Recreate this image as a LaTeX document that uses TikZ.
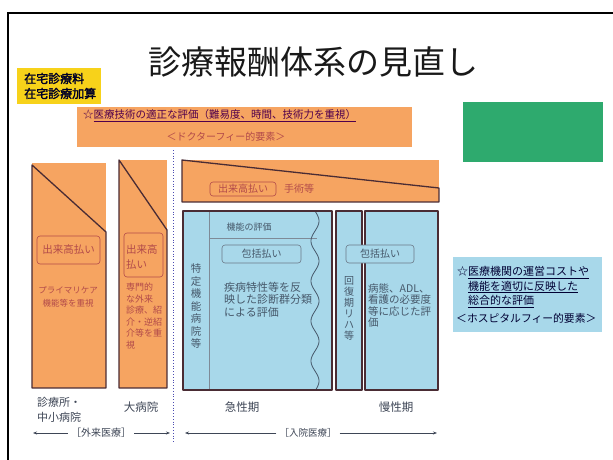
\documentclass[tikz,border=0pt]{standalone}
\usepackage{fontspec}
\setmainfont{Noto Sans CJK JP}[AutoFakeBold=2]
\usetikzlibrary{arrows.meta}
\definecolor{org}{HTML}{F6A461}
\definecolor{blu}{HTML}{A8D8EA}
\definecolor{grn}{HTML}{2EAA6E}
\definecolor{yel}{HTML}{F7D21A}
\definecolor{edge}{HTML}{4A2C34}
\definecolor{redtxt}{HTML}{B24A4A}
\definecolor{bluetxt}{HTML}{46586A}
\definecolor{lbltxt}{HTML}{3E4656}
\newcommand\fsz[2]{\fontsize{#1}{#2}\selectfont}
\tikzset{
  colfill/.style={fill=org, draw=none},
  coledge/.style={draw=edge, line width=1.3pt, line join=round},
  thinline/.style={draw=bluetxt!70, line width=0.5pt},
  orgtag/.style={draw=redtxt, line width=0.6pt, rounded corners=3pt, fill=org},
  blutag/.style={draw=bluetxt!80, line width=0.6pt, rounded corners=3pt, fill=blu},
  otext/.style={text=redtxt, inner sep=0pt},
  btext/.style={text=bluetxt, inner sep=0pt},
  ltext/.style={text=lbltxt, inner sep=0pt},
  arr/.style={draw=lbltxt, line width=0.7pt, -{Stealth[length=4pt,width=3pt]}}
}
\begin{document}
\begin{tikzpicture}[x=1pt,y=-1pt]
\useasboundingbox (0,0) rectangle (613,460);
\fill[white] (0,0) rectangle (613,460);
% frame
\draw[black, line width=1.5pt] (8,460) -- (8,13) -- (613,13);
% title
\node[text=black!90, inner sep=0pt, font=\fsz{33}{36}] (title) at (313,62) {診療報酬体系の見直し};
% yellow tag
\node[fill=yel, minimum width=84pt, minimum height=36pt, inner sep=0pt] (yel) at (59,86) {};
\node[anchor=west, align=left, text=black!85!blue, inner sep=0pt, font=\fsz{12}{15}\bfseries] (yeltxt) at (24,86) {在宅診療料\\在宅診療加算};
% top orange box
\node[fill=org, minimum width=335pt, minimum height=40pt, inner sep=0pt] (doc) at (244.5,127) {};
\node[anchor=west, text=black!55!red!70!blue, inner sep=0pt, font=\fsz{10.5}{12}] (doc1) at (83,116) {☆\underline{医療技術の適正な評価（難易度、時間、技術力を重視）}};
\node[text=redtxt, inner sep=0pt, font=\fsz{10}{12}] (doc2) at (226,137) {＜ドクターフィー的要素＞};
% green box
\node[fill=grn, minimum width=140pt, minimum height=60pt, inner sep=0pt] (grn) at (533,132) {};
% outpatient column 1
\fill[org] (32,163) rectangle (106,388);
\draw[coledge] (32,165) -- (32,388) -- (106,388) -- (106,232) -- cycle;
\node[orgtag, minimum width=63pt, minimum height=28pt, inner sep=0pt] (c1tag) at (68.5,250) {};
\node[otext, font=\fsz{10.5}{12}] (c1tagt) at (68.5,250) {出来高払い};
\node[otext, align=center, font=\fsz{8.5}{13}] (c1t) at (68,297) {プライマリケア\\機能等を重視};
% outpatient column 2
\fill[org] (119,160) rectangle (167,388);
\draw[coledge] (119,160) -- (119,388) -- (167,388) -- (167,230) -- cycle;
\node[orgtag, minimum width=39pt, minimum height=44pt, inner sep=0pt] (c2tag) at (143.5,255) {};
\node[otext, anchor=west, align=left, font=\fsz{10.5}{15}] (c2tagt) at (126,257) {出来高\\払い};
\node[otext, anchor=west, align=left, font=\fsz{9}{11.6}] (c2t) at (126,316) {専門的\\な外来\\診療、紹\\介・逆紹\\介等を重\\視};
% dotted separator
\draw[draw=blue!40!gray, dotted, line width=0.8pt] (173,150) -- (173,442);
% inpatient wedge
\fill[org] (182,160) rectangle (439,202);
\draw[coledge] (182,160) -- (182,202) -- (439,202) -- (439,188) -- cycle;
\node[orgtag, minimum width=66pt, minimum height=14pt, inner sep=0pt] (wtag) at (243,189) {};
\node[otext, font=\fsz{10}{12}] (wtagt) at (243,189) {出来高払い};
\node[otext, anchor=west, font=\fsz{10}{12}] (wt) at (284,189) {手術等};
% acute box
\fill[blu] (183,211) rectangle (332,390);
\draw[thinline] (209,211) -- (209,390);
\draw[thinline] (209,238) -- (317,238);
\draw[draw=bluetxt, line width=0.8pt] plot[domain=211:390, samples=120, smooth] ({315+4*sin((\x-211)*9)},\x);
\draw[coledge] (183,211) rectangle (332,390);
\node[btext, font=\fsz{9}{11}] (kinou) at (249,227) {機能の評価};
\node[blutag, minimum width=79pt, minimum height=18pt, inner sep=0pt] (a1tag) at (261.5,254) {};
\node[btext, font=\fsz{10}{12}] (a1tagt) at (261.5,254) {包括払い};
\node[btext, anchor=west, align=left, font=\fsz{11}{12.5}] (a1t) at (224,299.5) {疾病特性等を反\\映した診断群分類\\による評価};
\node[btext, align=center, font=\fsz{10.5}{12.5}] (tokutei) at (196,306) {特\\定\\機\\能\\病\\院\\等};
% rehab box and chronic box
\fill[blu] (336,211) rectangle (362,390);
\draw[coledge] (336,211) rectangle (362,390);
\fill[blu] (365,211) rectangle (438,390);
\draw[coledge] (365,211) rectangle (438,390);
\node[btext, align=center, font=\fsz{10}{11}] (reha) at (349,308) {回\\復\\期\\リ\\ハ\\等};
\node[blutag, minimum width=68pt, minimum height=18pt, inner sep=0pt] (c3tag) at (380,254) {};
\node[btext, font=\fsz{10}{12}] (c3tagt) at (380,254) {包括払い};
\node[btext, anchor=west, align=left, font=\fsz{10.5}{11.5}] (c3t) at (368,305.5) {病態、ADL、\\看護の必要度\\等に応じた評\\価};
% bottom labels
\node[ltext, anchor=west, align=left, font=\fsz{11}{15}] (l1) at (37,409.5) {診療所・\\中小病院};
\node[ltext, font=\fsz{11.5}{13}] (l2) at (141,407) {大病院};
\node[ltext, font=\fsz{11.5}{13}] (l3) at (242,407) {急性期};
\node[ltext, font=\fsz{11.5}{13}] (l4) at (396,407) {慢性期};
% outpatient arrow
\node[ltext, inner xsep=3pt, font=\fsz{10}{12}] (gairai) at (101,433) {［外来医療］};
\coordinate (gL) at (33,433);
\coordinate (gR) at (170,433);
\draw[arr] (gairai.west) -- (gL);
\draw[arr] (gairai.east) -- (gR);
% inpatient arrow
\node[ltext, inner xsep=3pt, font=\fsz{9.5}{12}] (nyuin) at (308,433) {［入院医療］};
\coordinate (nL) at (185,433);
\coordinate (nR) at (437,433);
\draw[arr] (nyuin.west) -- (nL);
\draw[arr] (nyuin.east) -- (nR);
% hospital fee box
\node[fill=blu, minimum width=149pt, minimum height=75pt, inner sep=0pt] (hosp) at (527.5,294.5) {};
\node[anchor=west, align=left, text=black!80!blue, inner sep=0pt, font=\fsz{11}{14.5}] (hosp1) at (457,287) {☆\underline{医療機関の運営コストや}\\\phantom{☆}\underline{機能を適切に反映した}\\\phantom{☆}\underline{総合的な評価}};
\node[anchor=west, text=black!80!blue, inner sep=0pt, font=\fsz{10.8}{12}] (hosp2) at (456,318) {＜ホスピタルフィー的要素＞};
\end{tikzpicture}
\end{document}
